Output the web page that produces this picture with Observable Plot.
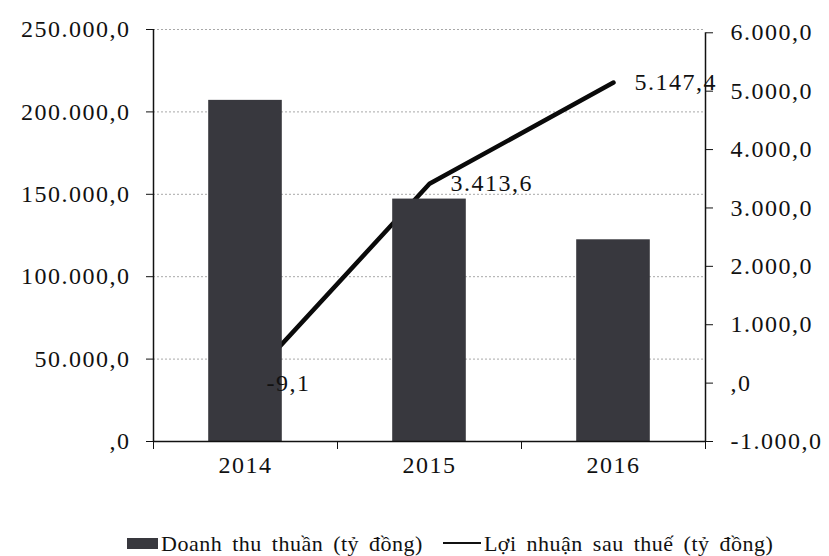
<!DOCTYPE html>
<html>
<head>
<meta charset="utf-8">
<script src="https://cdn.jsdelivr.net/npm/d3@7"></script>
<script src="https://cdn.jsdelivr.net/npm/@observablehq/plot@0.6"></script>
<style>
  html, body { margin: 0; padding: 0; background: #fff; }
  #chart { position: relative; width: 829px; height: 556px; font-family: "Liberation Serif", serif; color: #111; }
  #chart svg text { letter-spacing: 1.5px; }
  .legend { position: absolute; left: 127px; top: 531px; font-size: 22px; line-height: 26px; white-space: nowrap; word-spacing: 4px; letter-spacing: 0.5px; }
  .legend .sw-bar { display: inline-block; width: 31px; height: 11px; background: #38383e; margin-right: 3px; vertical-align: 2px; }
  .legend .sw-line { display: inline-block; width: 38px; height: 2px; background: #111; margin: 0 3px 0 20px; vertical-align: 7px; }
</style>
</head>
<body>
<div id="chart"></div>
<script>
// Years on the category axis
const years = ["2014", "2015", "2016"];
// Net revenue, billion VND (left axis)
const revenue = [207000, 147100, 122400];
// Profit after tax, billion VND (right axis)
const profit = [-9.1, 3413.6, 5147.4];
// Axis ticks
const leftTicks = [0, 50000, 100000, 150000, 200000, 250000];
const rightTicks = [-1000, 0, 1000, 2000, 3000, 4000, 5000, 6000];

// Vietnamese number style: 250.000,0 and ",0" for zero
const vn = d3.formatLocale({decimal: ",", thousands: ".", grouping: [3], currency: ["", ""], minus: "-"});
const f1 = vn.format(",.1f");
const fmt = v => {
  const s = f1(v);
  return s === "0,0" ? ",0" : s.replace(/^(-?)0,/, "$1,");
};

// The right axis shares the single y scale: profit is mapped onto the revenue span
const rMin = rightTicks[0], rMax = rightTicks[rightTicks.length - 1];
const span = 248000;
const toLeft = p => (p - rMin) / (rMax - rMin) * span;
const fromLeft = v => Math.round((v / span * (rMax - rMin) + rMin) * 10) / 10;

const rows = years.map((year, i) => ({
  year, i, revenue: revenue[i], profit: profit[i], py: toLeft(profit[i])
}));

const chart = Plot.plot({
  width: 829,
  height: 500,
  marginLeft: 153,
  marginRight: 124,
  marginTop: 29,
  marginBottom: 59,
  style: {fontFamily: "Liberation Serif", fontSize: "24px", color: "#111", background: "#fff", overflow: "visible"},
  x: {type: "linear", domain: [0, years.length], axis: null},
  y: {domain: [0, 250000], axis: null, label: null},
  marks: [
    // dotted horizontal gridlines at the left ticks
    Plot.ruleY(leftTicks.slice(1), {stroke: "#a8a8a8", strokeDasharray: "2,2", strokeWidth: 1}),
    // profit line, sitting behind the bars
    Plot.line(rows, {x: d => d.i + 0.5, y: "py", stroke: "#0a0a0a", strokeWidth: 4.5, strokeLinejoin: "round", strokeLinecap: "round"}),
    // revenue bars
    Plot.rectY(rows, {x1: d => d.i + 0.3, x2: d => d.i + 0.7, y1: 0, y2: "revenue", fill: "#38383e"}),
    // profit value labels
    Plot.text(rows, {x: d => d.i + 0.5, y: "py", text: d => fmt(d.profit), textAnchor: "start", dx: 21, fontSize: 24, fill: "#111"}),
    // axis lines
    Plot.ruleX([0], {y1: 0, y2: 250000, stroke: "#111", strokeWidth: 1.5}),
    Plot.ruleX([years.length], {y1: 0, y2: span, stroke: "#111", strokeWidth: 1.5}),
    Plot.ruleY([0], {stroke: "#111", strokeWidth: 1.5}),
    // left axis (revenue)
    Plot.axisY({anchor: "left", ticks: leftTicks, tickFormat: fmt, tickSize: 7, tickPadding: 16, label: null, stroke: "#111"}),
    // right axis (profit)
    Plot.axisY({anchor: "right", ticks: rightTicks.map(toLeft), tickFormat: v => fmt(fromLeft(v)), tickSize: 7, tickPadding: 18, label: null, stroke: "#111"}),
    // category boundary ticks and year labels
    Plot.axisX({ticks: d3.range(years.length + 1), tickFormat: () => "", tickSize: 8, label: null, stroke: "#111"}),
    Plot.axisX({ticks: years.map((_, i) => i + 0.5), tickFormat: v => years[Math.floor(v)], tickSize: 0, tickPadding: 14, label: null})
  ]
});

const root = document.getElementById("chart");
root.appendChild(chart);

const legend = document.createElement("div");
legend.className = "legend";
legend.innerHTML = '<span class="sw-bar"></span>Doanh thu thuần (tỷ đồng)<span class="sw-line"></span>Lợi nhuận sau thuế (tỷ đồng)';
root.appendChild(legend);
</script>
</body>
</html>
